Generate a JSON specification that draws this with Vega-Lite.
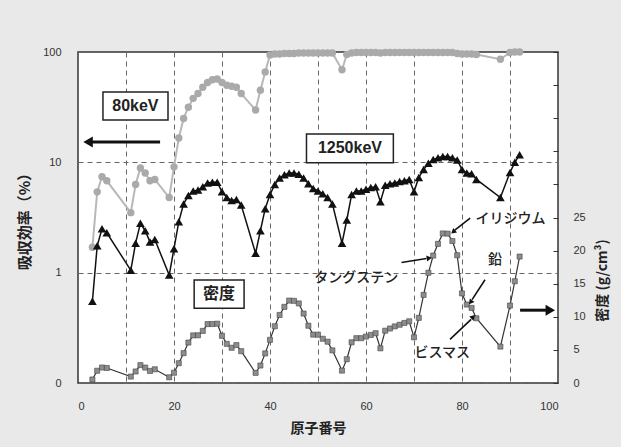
{
  "$schema": "https://vega.github.io/schema/vega-lite/v6.json",
  "width": 480,
  "height": 331,
  "autosize": {"type": "none"},
  "padding": {"left": 78, "top": 52, "right": 63, "bottom": 64},
  "background": "#e9e9e9",
  "view": {"fill": "white", "stroke": "#333333", "strokeWidth": 1.5},
  "config": {
    "axis": {
      "domain": false,
      "ticks": false,
      "labelOverlap": false,
      "labelFont": "Liberation Sans",
      "labelFontSize": 11,
      "labelColor": "#333333",
      "titleFont": "Noto Sans CJK JP",
      "titleFontWeight": "bold",
      "titleColor": "#222222",
      "gridColor": "#666666",
      "gridDash": [5, 4],
      "gridWidth": 1
    }
  },
  "datasets": {
    "el": [
      {"Z": 3, "e80": 1.7, "e1250": 0.55, "rho": 0.53},
      {"Z": 4, "e80": 5.4, "e1250": 1.75, "rho": 1.85},
      {"Z": 5, "e80": 7.4, "e1250": 2.5, "rho": 2.34},
      {"Z": 6, "e80": 6.8, "e1250": 2.3, "rho": 2.27},
      {"Z": 11, "e80": 3.5, "e1250": 1.05, "rho": 0.97},
      {"Z": 12, "e80": 6.3, "e1250": 1.85, "rho": 1.74},
      {"Z": 13, "e80": 8.9, "e1250": 2.8, "rho": 2.7},
      {"Z": 14, "e80": 8.0, "e1250": 2.4, "rho": 2.33},
      {"Z": 15, "e80": 6.8, "e1250": 1.9, "rho": 1.82},
      {"Z": 16, "e80": 7.0, "e1250": 2.0, "rho": 2.07},
      {"Z": 19, "e80": 4.8, "e1250": 0.95, "rho": 0.86},
      {"Z": 20, "e80": 9.1, "e1250": 1.65, "rho": 1.55},
      {"Z": 21, "e80": 16.6, "e1250": 2.9, "rho": 2.99},
      {"Z": 22, "e80": 25, "e1250": 4.2, "rho": 4.51},
      {"Z": 23, "e80": 31.6, "e1250": 5.0, "rho": 6.11},
      {"Z": 24, "e80": 38, "e1250": 5.5, "rho": 7.19},
      {"Z": 25, "e80": 42, "e1250": 5.6, "rho": 7.21},
      {"Z": 26, "e80": 48, "e1250": 6.0, "rho": 7.87},
      {"Z": 27, "e80": 53, "e1250": 6.5, "rho": 8.9},
      {"Z": 28, "e80": 56, "e1250": 6.6, "rho": 8.91},
      {"Z": 29, "e80": 57, "e1250": 6.6, "rho": 8.96},
      {"Z": 30, "e80": 53, "e1250": 5.4, "rho": 7.13},
      {"Z": 31, "e80": 50, "e1250": 4.8, "rho": 5.91},
      {"Z": 32, "e80": 49, "e1250": 4.5, "rho": 5.32},
      {"Z": 33, "e80": 48, "e1250": 4.6, "rho": 5.73},
      {"Z": 34, "e80": 42, "e1250": 4.1, "rho": 4.81},
      {"Z": 37, "e80": 29.8, "e1250": 1.5, "rho": 1.53},
      {"Z": 38, "e80": 45, "e1250": 2.4, "rho": 2.64},
      {"Z": 39, "e80": 66, "e1250": 3.8, "rho": 4.47},
      {"Z": 40, "e80": 94, "e1250": 5.1, "rho": 6.52},
      {"Z": 41, "e80": 96, "e1250": 6.3, "rho": 8.57},
      {"Z": 42, "e80": 96, "e1250": 7.2, "rho": 10.28},
      {"Z": 43, "e80": 97, "e1250": 7.7, "rho": 11.5},
      {"Z": 44, "e80": 97, "e1250": 8.0, "rho": 12.45},
      {"Z": 45, "e80": 97, "e1250": 8.0, "rho": 12.41},
      {"Z": 46, "e80": 98, "e1250": 7.8, "rho": 12.02},
      {"Z": 47, "e80": 98, "e1250": 7.2, "rho": 10.49},
      {"Z": 48, "e80": 98, "e1250": 6.4, "rho": 8.65},
      {"Z": 49, "e80": 98, "e1250": 5.8, "rho": 7.31},
      {"Z": 50, "e80": 98, "e1250": 5.5, "rho": 7.29},
      {"Z": 51, "e80": 98, "e1250": 5.2, "rho": 6.68},
      {"Z": 52, "e80": 98, "e1250": 4.8, "rho": 6.24},
      {"Z": 53, "e80": 98, "e1250": 4.2, "rho": 4.93},
      {"Z": 55, "e80": 69, "e1250": 1.85, "rho": 1.87},
      {"Z": 56, "e80": 95, "e1250": 3.0, "rho": 3.59},
      {"Z": 57, "e80": 98, "e1250": 5.1, "rho": 6.15},
      {"Z": 58, "e80": 99, "e1250": 5.5, "rho": 6.77},
      {"Z": 59, "e80": 99, "e1250": 5.5, "rho": 6.77},
      {"Z": 60, "e80": 99, "e1250": 5.7, "rho": 7.01},
      {"Z": 61, "e80": 99, "e1250": 5.9, "rho": 7.26},
      {"Z": 62, "e80": 99, "e1250": 6.0, "rho": 7.52},
      {"Z": 63, "e80": 98, "e1250": 4.4, "rho": 5.24},
      {"Z": 64, "e80": 99, "e1250": 6.2, "rho": 7.9},
      {"Z": 65, "e80": 99, "e1250": 6.4, "rho": 8.23},
      {"Z": 66, "e80": 99, "e1250": 6.5, "rho": 8.55},
      {"Z": 67, "e80": 99, "e1250": 6.7, "rho": 8.8},
      {"Z": 68, "e80": 99, "e1250": 6.8, "rho": 9.07},
      {"Z": 69, "e80": 99, "e1250": 7.0, "rho": 9.32},
      {"Z": 70, "e80": 99, "e1250": 5.4, "rho": 6.9},
      {"Z": 71, "e80": 99, "e1250": 7.3, "rho": 9.84},
      {"Z": 72, "e80": 99, "e1250": 8.6, "rho": 13.31},
      {"Z": 73, "e80": 99, "e1250": 9.8, "rho": 16.65},
      {"Z": 74, "e80": 99, "e1250": 10.6, "rho": 19.25},
      {"Z": 75, "e80": 99, "e1250": 11.0, "rho": 21.02},
      {"Z": 76, "e80": 99, "e1250": 11.3, "rho": 22.59},
      {"Z": 77, "e80": 99, "e1250": 11.3, "rho": 22.56},
      {"Z": 78, "e80": 99, "e1250": 11.0, "rho": 21.45},
      {"Z": 79, "e80": 97, "e1250": 10.5, "rho": 19.3},
      {"Z": 80, "e80": 96, "e1250": 8.6, "rho": 13.53},
      {"Z": 81, "e80": 96, "e1250": 8.0, "rho": 11.85},
      {"Z": 82, "e80": 96, "e1250": 7.9, "rho": 11.34},
      {"Z": 83, "e80": 95, "e1250": 7.0, "rho": 9.78},
      {"Z": 88, "e80": 86, "e1250": 4.8, "rho": 5.5},
      {"Z": 90, "e80": 99, "e1250": 8.1, "rho": 11.7},
      {"Z": 91, "e80": 100, "e1250": 10.0, "rho": 15.37},
      {"Z": 92, "e80": 100, "e1250": 11.7, "rho": 19.1}
    ]
  },
  "layer": [
    {
      "layer": [
        {
          "data": {"name": "el"},
          "mark": {"type": "line", "color": "#b8b8b8", "strokeWidth": 2, "point": {"filled": true, "size": 55, "color": "#aaaaaa"}},
          "encoding": {
            "x": {"field": "Z", "type": "quantitative", "scale": {"domain": [0, 100], "nice": false},
              "axis": {"values": [0, 10, 20, 30, 40, 50, 60, 70, 80, 90, 100], "labelExpr": "datum.value % 20 == 0 ? datum.label : ''", "labelOverlap": false, "grid": true, "labelPadding": 17, "title": "原子番号", "titleFontSize": 14, "titlePadding": 10}},
            "y": {"field": "e80", "type": "quantitative", "scale": {"type": "log", "domain": [0.1, 100], "nice": false},
              "axis": {"orient": "left", "values": [0.1, 1, 10, 100], "labelExpr": "datum.value < 0.5 ? '0' : format(datum.value, 'd')", "labelOverlap": false, "grid": true, "labelPadding": 17, "title": "吸収効率（%）", "titleFontSize": 15, "titlePadding": 10}}
          }
        },
        {
          "data": {"name": "el"},
          "mark": {"type": "line", "color": "#111111", "strokeWidth": 1.5, "point": {"filled": true, "shape": "triangle-up", "size": 75, "color": "#111111"}},
          "encoding": {
            "x": {"field": "Z", "type": "quantitative"},
            "y": {"field": "e1250", "type": "quantitative"}
          }
        },
        {
          "data": {"values": [
            {"x1": 5.2, "x2": 18.75, "y1": 24.2, "y2": 43.4},
            {"x1": 47.6, "x2": 65.7, "y1": 9.93, "y2": 18.07}
          ]},
          "mark": {"type": "rect", "fill": "white", "stroke": "#222222", "strokeWidth": 1.5},
          "encoding": {
            "x": {"field": "x1", "type": "quantitative"},
            "x2": {"field": "x2"},
            "y": {"field": "y1", "type": "quantitative"},
            "y2": {"field": "y2"}
          }
        },
        {
          "data": {"values": [
            {"Z": 11.95, "v": 32.4, "t": "80keV"},
            {"Z": 56.65, "v": 13.4, "t": "1250keV"}
          ]},
          "mark": {"type": "text", "font": "Liberation Sans", "fontSize": 16, "fontWeight": "bold", "color": "#222222", "baseline": "middle", "align": "center"},
          "encoding": {
            "x": {"field": "Z", "type": "quantitative"},
            "y": {"field": "v", "type": "quantitative"},
            "text": {"field": "t"}
          }
        },
        {
          "data": {"values": [{"x1": 2.5, "x2": 17.1, "v": 15.3}]},
          "mark": {"type": "rule", "color": "#111111", "strokeWidth": 3},
          "encoding": {
            "x": {"field": "x1", "type": "quantitative"},
            "x2": {"field": "x2"},
            "y": {"field": "v", "type": "quantitative"}
          }
        },
        {
          "data": {"values": [{"Z": 2.1, "v": 15.3}]},
          "mark": {"type": "point", "shape": "triangle-left", "filled": true, "size": 120, "color": "#111111", "opacity": 1},
          "encoding": {
            "x": {"field": "Z", "type": "quantitative"},
            "y": {"field": "v", "type": "quantitative"}
          }
        }
      ]
    },
    {
      "layer": [
        {
          "data": {"name": "el"},
          "mark": {"type": "line", "color": "#333333", "strokeWidth": 1.2, "point": {"filled": true, "shape": "square", "size": 26, "fill": "#8c8c8c", "stroke": "#444444", "strokeWidth": 0.6}},
          "encoding": {
            "x": {"field": "Z", "type": "quantitative"},
            "y": {"field": "rho", "type": "quantitative", "scale": {"domain": [0, 50], "nice": false},
              "axis": {"orient": "right", "tickCount": 10, "labelExpr": "datum.value <= 25 ? datum.label : ''", "labelOverlap": false, "labelBound": false, "grid": false, "ticks": true, "tickSize": -5, "tickColor": "#333333", "labelPadding": 20, "title": "密度 (g/cm³)", "titleFontSize": 14, "titleAngle": 270, "titleBaseline": "top", "titleY": 228, "titlePadding": 10}}
          }
        },
        {
          "data": {"values": [{"x1": 24.2, "x2": 34.6, "d1": 11.28, "d2": 15.56}]},
          "mark": {"type": "rect", "fill": "white", "stroke": "#222222", "strokeWidth": 1.5},
          "encoding": {
            "x": {"field": "x1", "type": "quantitative"},
            "x2": {"field": "x2"},
            "y": {"field": "d1", "type": "quantitative"},
            "y2": {"field": "d2"}
          }
        },
        {
          "data": {"values": [{"Z": 29.4, "d": 13.4, "t": "密度"}]},
          "mark": {"type": "text", "font": "Noto Sans CJK JP", "fontSize": 16, "fontWeight": "bold", "color": "#222222", "baseline": "middle", "align": "center"},
          "encoding": {
            "x": {"field": "Z", "type": "quantitative"},
            "y": {"field": "d", "type": "quantitative"},
            "text": {"field": "t"}
          }
        },
        {
          "data": {"values": [{"Z": 82.8, "d": 24.8, "t": "イリジウム"}]},
          "mark": {"type": "text", "font": "Noto Sans CJK JP", "fontSize": 14, "fontWeight": 500, "color": "#222222", "baseline": "middle", "align": "left"},
          "encoding": {
            "x": {"field": "Z", "type": "quantitative"},
            "y": {"field": "d", "type": "quantitative"},
            "text": {"field": "t"}
          }
        },
        {
          "data": {"values": [{"Z": 66.7, "d": 15.8, "t": "タングステン"}]},
          "mark": {"type": "text", "font": "Noto Sans CJK JP", "fontSize": 14, "fontWeight": 500, "color": "#222222", "baseline": "middle", "align": "right"},
          "encoding": {
            "x": {"field": "Z", "type": "quantitative"},
            "y": {"field": "d", "type": "quantitative"},
            "text": {"field": "t"}
          }
        },
        {
          "data": {"values": [
            {"Z": 86.9, "d": 18.6, "t": "鉛"},
            {"Z": 75.9, "d": 4.5, "t": "ビスマス"}
          ]},
          "mark": {"type": "text", "font": "Noto Sans CJK JP", "fontSize": 14, "fontWeight": 500, "color": "#222222", "baseline": "middle", "align": "center"},
          "encoding": {
            "x": {"field": "Z", "type": "quantitative"},
            "y": {"field": "d", "type": "quantitative"},
            "text": {"field": "t"}
          }
        },
        {
          "data": {"values": [
            {"x1": 81.7, "d1": 24.9, "x2": 78.5, "d2": 23.1},
            {"x1": 67.4, "d1": 18.2, "x2": 72.6, "d2": 18.8},
            {"x1": 84.8, "d1": 15.6, "x2": 82.1, "d2": 12.6},
            {"x1": 77.5, "d1": 6.6, "x2": 81.9, "d2": 9.6}
          ]},
          "mark": {"type": "rule", "color": "#111111", "strokeWidth": 1.6},
          "encoding": {
            "x": {"field": "x1", "type": "quantitative"},
            "y": {"field": "d1", "type": "quantitative"},
            "x2": {"field": "x2"},
            "y2": {"field": "d2"}
          }
        },
        {
          "data": {"values": [{"Z": 92.1, "d": 11.0, "Z2": 97.6}]},
          "mark": {"type": "rule", "color": "#111111", "strokeWidth": 3},
          "encoding": {
            "x": {"field": "Z", "type": "quantitative"},
            "x2": {"field": "Z2"},
            "y": {"field": "d", "type": "quantitative"}
          }
        },
        {
          "data": {"values": [{"Z": 98.4, "d": 11.0}]},
          "mark": {"type": "point", "shape": "triangle-right", "filled": true, "size": 120, "color": "#111111", "opacity": 1},
          "encoding": {
            "x": {"field": "Z", "type": "quantitative"},
            "y": {"field": "d", "type": "quantitative"}
          }
        },
        {
          "data": {"values": [{"Z": 78.3, "d": 22.9}]},
          "mark": {"type": "point", "shape": "triangle", "angle": 230, "filled": true, "size": 35, "color": "#111111", "opacity": 1},
          "encoding": {
            "x": {"field": "Z", "type": "quantitative"},
            "y": {"field": "d", "type": "quantitative"}
          }
        },
        {
          "data": {"values": [{"Z": 73.0, "d": 18.85}]},
          "mark": {"type": "point", "shape": "triangle", "angle": 81, "filled": true, "size": 35, "color": "#111111", "opacity": 1},
          "encoding": {
            "x": {"field": "Z", "type": "quantitative"},
            "y": {"field": "d", "type": "quantitative"}
          }
        },
        {
          "data": {"values": [{"Z": 81.9, "d": 12.3}]},
          "mark": {"type": "point", "shape": "triangle", "angle": 217, "filled": true, "size": 35, "color": "#111111", "opacity": 1},
          "encoding": {
            "x": {"field": "Z", "type": "quantitative"},
            "y": {"field": "d", "type": "quantitative"}
          }
        },
        {
          "data": {"values": [{"Z": 82.2, "d": 9.9}]},
          "mark": {"type": "point", "shape": "triangle", "angle": 45, "filled": true, "size": 35, "color": "#111111", "opacity": 1},
          "encoding": {
            "x": {"field": "Z", "type": "quantitative"},
            "y": {"field": "d", "type": "quantitative"}
          }
        }
      ]
    }
  ],
  "resolve": {"scale": {"y": "independent"}, "axis": {"y": "independent"}}
}
